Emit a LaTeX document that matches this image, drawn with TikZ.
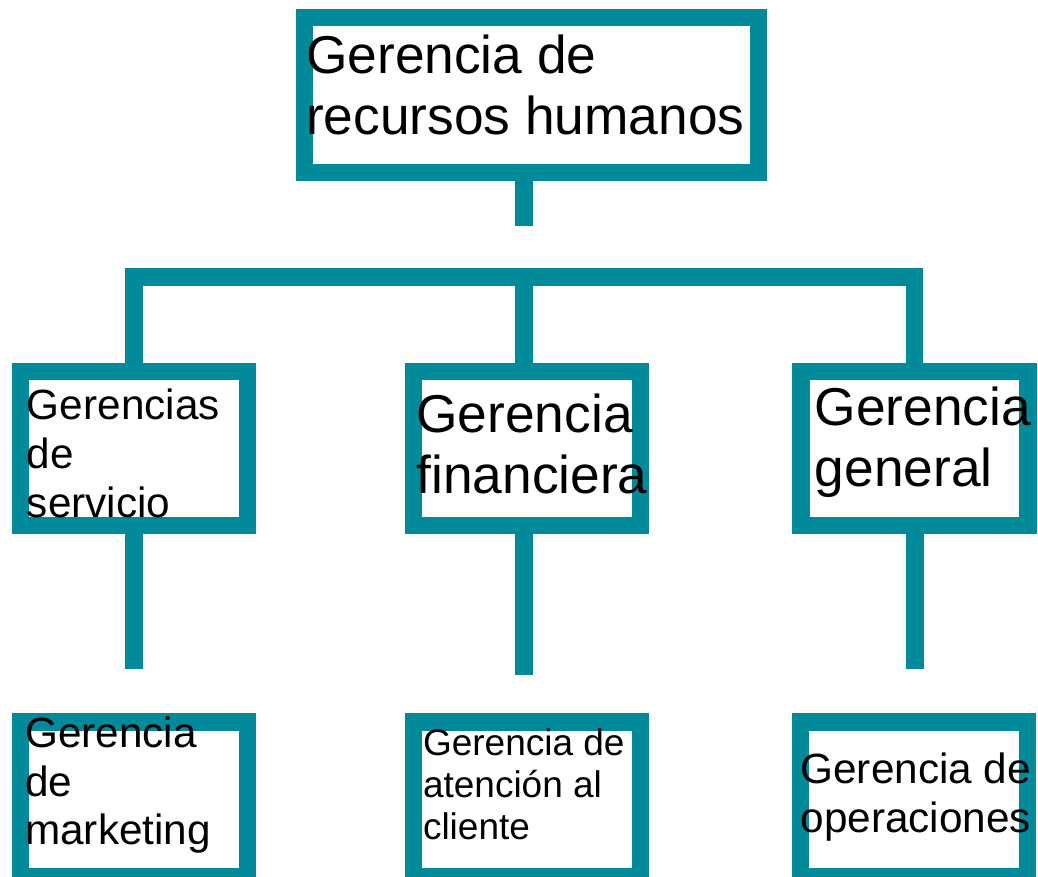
\documentclass[tikz,border=0pt]{standalone}
\usepackage{fontspec}
\setmainfont{Liberation Sans}
\usetikzlibrary{backgrounds}
\definecolor{tealline}{HTML}{008A9A}
\begin{document}
\begin{tikzpicture}[x=1pt,y=-1pt,
  box/.style={draw=tealline, line width=17.4pt, fill=white, minimum width=227pt,
    minimum height=154.4pt, inner sep=0pt, outer sep=0pt},
  conn/.style={draw=tealline, line width=17.4pt, line cap=butt, line join=miter},
  lbl/.style={anchor=north west, align=left, inner sep=0pt, outer sep=0pt, text=black},
  big/.style={font=\fontsize{53.3}{61.3}\selectfont},
  mid/.style={font=\fontsize{42.3}{48.7}\selectfont},
  small/.style={font=\fontsize{37}{41.7}\selectfont}]
\useasboundingbox (0,0) rectangle (1038,877);
\clip (0,0) rectangle (1038,877);
% boxes
\node[box, minimum width=454.2pt, minimum height=154.6pt] (top) at (531.5,95) {};
\node[box] (serv) at (133.85,448.5) {};
\node[box] (fin) at (527.15,448.5) {};
\node[box] (gen) at (914.45,448.5) {};
\node[box] (mkt) at (133.85,799.3) {};
\node[box] (cli) at (527.25,799.3) {};
\node[box] (ops) at (914.15,799.3) {};
% connector ends
\coordinate (hub) at (524,277);
\coordinate (t1) at (524,225.7);
\coordinate (e1) at (134,669.3);
\coordinate (e2) at (524,675);
\coordinate (e3) at (914.8,669.3);
\begin{scope}[on background layer]
  \draw[conn] (t1 |- top.south) -- (t1);
  \draw[conn] (serv.north) |- (gen.north |- hub) -- (gen.north);
  \draw[conn] (hub) -- (hub |- fin.north);
  \draw[conn] (e1 |- serv.south) -- (e1);
  \draw[conn] (e2 |- fin.south) -- (e2);
  \draw[conn] (e3 |- gen.south) -- (e3);
\end{scope}
% labels
\node[lbl, big] (ttop) at (306.2,35) {Gerencia de\\recursos humanos};
\node[lbl, mid] (tserv) at (27,389.3) {Gerencias\\de\\servicio};
\node[lbl, big] (tfin) at (416.5,394) {Gerencia\\financiera};
\node[lbl, big] (tgen) at (814.8,386.7) {Gerencia\\general};
\node[lbl, mid] (tmkt) at (25.2,716.7) {Gerencia\\de\\marketing};
\node[lbl, small] (tcli) at (423,729) {Gerencia de\\atención al\\cliente};
\node[lbl, mid] (tops) at (800.5,753.3) {Gerencia de\\operaciones};
\end{tikzpicture}
\end{document}
